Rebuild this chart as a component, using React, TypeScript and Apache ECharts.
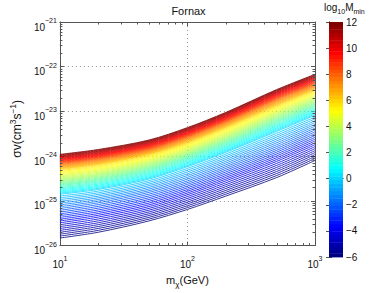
import React, { useEffect, useRef } from 'react';
import * as echarts from 'echarts';

// ---- data ----
const masses = [10, 20, 50, 100, 200, 500, 1000]; // m_chi (GeV)
const levels = [-6, -4, -2, 0, 2, 4, 6, 8, 10, 12]; // log10 M_min contour levels

// sigma v (cm^3 s^-1) of each contour at the masses above
const sigmaLevelM6 = [1.48e-26, 1.99e-26, 3.57e-26, 6.44e-26, 1.28e-25, 3.32e-25, 8.02e-25];
const sigmaLevelM4 = [3.24e-26, 4.35e-26, 7.45e-26, 1.37e-25, 2.8e-25, 7.64e-25, 1.8e-24];
const sigmaLevelM2 = [6.76e-26, 9.06e-26, 1.55e-25, 2.8e-25, 5.83e-25, 1.63e-24, 3.85e-24];
const sigmaLevel0 = [1.41e-25, 1.8e-25, 3.08e-25, 5.83e-25, 1.22e-24, 3.57e-24, 8.22e-24];
const sigmaLevel2 = [2.19e-25, 2.8e-25, 4.8e-25, 9.06e-25, 1.89e-24, 5.69e-24, 1.28e-23];
const sigmaLevel4 = [3.24e-25, 4.14e-25, 7.1e-25, 1.31e-24, 2.8e-24, 8.63e-24, 1.89e-23];
const sigmaLevel6 = [5.04e-25, 6.44e-25, 1.08e-24, 1.99e-24, 4.35e-24, 1.34e-23, 3.01e-23];
const sigmaLevel8 = [6.76e-25, 8.63e-25, 1.41e-24, 2.67e-24, 5.83e-24, 1.85e-23, 4.04e-23];
const sigmaLevel10 = [8.63e-25, 1.1e-24, 1.8e-24, 3.4e-24, 7.45e-24, 2.41e-23, 5.29e-23];
const sigmaLevel12 = [1.1e-24, 1.41e-24, 2.3e-24, 4.35e-24, 9.53e-24, 3.08e-23, 6.76e-23];

const contourSigma = [
  sigmaLevelM6, sigmaLevelM4, sigmaLevelM2, sigmaLevel0, sigmaLevel2,
  sigmaLevel4, sigmaLevel6, sigmaLevel8, sigmaLevel10, sigmaLevel12,
];

const xMin = 10;
const xMax = 1000;
const yMin = 1e-26;
const yMax = 1e-21;
const cbMin = -6;
const cbMax = 12;
const cbInterval = 2;
const minorMantissas = [2, 3, 4, 5, 6, 7, 8, 9];
const xDecades = [10, 100];
const yDecades = [1e-26, 1e-25, 1e-24, 1e-23, 1e-22];

// ECharts' log scale rounds values below 1e-20 to zero, so the y axis works in
// units of 1e-26 cm^3 s^-1 and the labels add the exponent back.
const Y_UNIT = 1e-26;
const toAxis = (s: number) => s / Y_UNIT;

const FONT = '"Liberation Sans", Arial, Helvetica, sans-serif';
const AXIS = '#555';
const TEXT = '#111';
const SUB_LINES = 8; // contour lines drawn per band

function jet(t: number): string {
  const c = (v: number) => Math.max(0, Math.min(1, v));
  const r = c(Math.min(4 * t - 1.5, -4 * t + 4.5));
  const g = c(Math.min(4 * t - 0.5, -4 * t + 3.5));
  const b = c(Math.min(4 * t + 0.5, -4 * t + 2.5));
  return `rgb(${Math.round(r * 255)},${Math.round(g * 255)},${Math.round(b * 255)})`;
}
const levelColor = (l: number) => jet((l - cbMin) / (cbMax - cbMin));

const supRich = {
  b: { fontSize: 10, lineHeight: 20, fontFamily: FONT, color: TEXT },
  e: { fontSize: 7, lineHeight: 8, verticalAlign: 'top', fontFamily: FONT, color: TEXT },
};
const expOf = (v: number) => Math.round(Math.log10(v));
const minusFmt = (n: number) => (n < 0 ? '\u2212' + -n : String(n));
const yExp = (v: number) => Math.round(Math.log10(v) + Math.log10(Y_UNIT));

export default function App() {
  const ref = useRef<HTMLDivElement>(null);
  useEffect(() => {
    const chart = echarts.init(ref.current!, null, { renderer: 'svg' });

    const bandData = levels.slice(0, -1).map((_, i) => [masses[0], toAxis(contourSigma[i][0]), i]);

    const option: any = {
      animation: false,
      backgroundColor: '#fff',
      title: {
        text: 'Fornax',
        left: 183.5,
        top: 0,
        textAlign: 'center',
        textStyle: { fontSize: 11, fontWeight: 'normal', color: TEXT, fontFamily: FONT },
      },
      grid: [
        { left: 52, top: 22, width: 263, height: 235 },
        { left: 329, top: 22, width: 14, height: 235 },
      ],
      xAxis: [
        {
          gridIndex: 0, type: 'log', logBase: 10, min: xMin, max: xMax, position: 'bottom',
          axisLine: { show: true, lineStyle: { color: AXIS } },
          axisTick: { show: true, inside: true, length: 4, lineStyle: { color: AXIS } },
          splitLine: { show: true, lineStyle: { type: [1, 3], color: '#999' } },
          axisLabel: {
            margin: 9,
            formatter: (v: number) => `{b|10}{e|${expOf(v)}}`,
            rich: supRich,
          },
          name: '{a|m}{s|\u03c7}{a|(GeV)}',
          nameLocation: 'middle',
          nameGap: 13,
          nameTextStyle: {
            rich: {
              a: { fontSize: 11, lineHeight: 16, fontFamily: FONT, color: TEXT },
              s: { fontSize: 8, lineHeight: 9, verticalAlign: 'bottom', fontFamily: FONT, color: TEXT },
            },
          },
        },
        {
          gridIndex: 0, type: 'log', logBase: 10, min: xMin, max: xMax, position: 'top',
          axisLine: { show: true, lineStyle: { color: AXIS } },
          axisTick: { show: true, inside: true, length: 4, lineStyle: { color: AXIS } },
          axisLabel: { show: false },
          splitLine: { show: false },
        },
        {
          gridIndex: 1, type: 'value', min: 0, max: 1, position: 'bottom',
          axisLine: { show: true, lineStyle: { color: AXIS } },
          axisTick: { show: false }, axisLabel: { show: false }, splitLine: { show: false },
        },
        {
          gridIndex: 1, type: 'value', min: 0, max: 1, position: 'top',
          axisLine: { show: true, lineStyle: { color: AXIS } },
          axisTick: { show: false }, axisLabel: { show: false }, splitLine: { show: false },
        },
      ],
      yAxis: [
        {
          gridIndex: 0, type: 'log', logBase: 10, min: toAxis(yMin), max: toAxis(yMax), position: 'left',
          axisLine: { show: true, lineStyle: { color: AXIS } },
          axisTick: { show: true, inside: true, length: 4, lineStyle: { color: AXIS } },
          splitLine: { show: true, lineStyle: { type: [1, 3], color: '#999' } },
          axisLabel: {
            margin: 3,
            padding: [10, 0, 0, 0],
            formatter: (v: number) => `{b|10}{e|${minusFmt(yExp(v))}}`,
            rich: supRich,
          },
          name: '{a|\u03c3v(cm}{e|3}{a|s}{e|\u22121}{a|)}',
          nameLocation: 'middle',
          nameGap: 30,
          nameRotate: 90,
          nameTextStyle: {
            padding: [0, 0, 0, 10],
            rich: {
              a: { fontSize: 12, lineHeight: 18, fontFamily: FONT, color: TEXT },
              e: { fontSize: 8.5, lineHeight: 9, verticalAlign: 'top', fontFamily: FONT, color: TEXT },
            },
          },
        },
        {
          gridIndex: 0, type: 'log', logBase: 10, min: toAxis(yMin), max: toAxis(yMax), position: 'right',
          axisLine: { show: true, lineStyle: { color: AXIS } },
          axisTick: { show: true, inside: true, length: 4, lineStyle: { color: AXIS } },
          axisLabel: { show: false },
          splitLine: { show: false },
        },
        {
          gridIndex: 1, type: 'value', min: cbMin, max: cbMax, interval: cbInterval, position: 'right',
          axisLine: { show: true, lineStyle: { color: AXIS } },
          axisTick: { show: true, inside: true, length: 3, lineStyle: { color: AXIS } },
          axisLabel: {
            margin: 3, fontSize: 10, fontFamily: FONT, color: TEXT,
            formatter: (v: number) => minusFmt(v),
          },
          splitLine: { show: false },
        },
        {
          gridIndex: 1, type: 'value', min: cbMin, max: cbMax, interval: cbInterval, position: 'left',
          axisLine: { show: true, lineStyle: { color: AXIS } },
          axisTick: { show: true, inside: true, length: 3, lineStyle: { color: AXIS } },
          axisLabel: { show: false },
          splitLine: { show: false },
        },
      ],
      graphic: [
        {
          type: 'text',
          left: 324,
          top: 2,
          style: {
            text: '{a|log}{s|10}{a|M}{s|min}',
            fill: TEXT,
            rich: {
              a: { fontSize: 10, lineHeight: 16, fontFamily: FONT, fill: TEXT, color: TEXT },
              s: { fontSize: 7, lineHeight: 8, verticalAlign: 'bottom', fontFamily: FONT, fill: TEXT, color: TEXT },
            },
          },
        },
      ],
      series: [
        {
          type: 'custom',
          name: 'contours',
          xAxisIndex: 0,
          yAxisIndex: 0,
          clip: true,
          encode: { x: 0, y: 1 },
          data: bandData,
          renderItem: (params: any, api: any) => {
            const i = api.value(2);
            const lo = contourSigma[i];
            const hi = contourSigma[i + 1];
            const l0 = levels[i];
            const l1 = levels[i + 1];
            const count = i === levels.length - 2 ? SUB_LINES + 1 : SUB_LINES;
            const children: any[] = [];
            for (let k = 0; k < count; k++) {
              const t = k / SUB_LINES;
              const lev = l0 + t * (l1 - l0);
              const pts = masses.map((m, j) => {
                const ly = Math.log10(toAxis(lo[j])) * (1 - t) + Math.log10(toAxis(hi[j])) * t;
                return api.coord([m, Math.pow(10, ly)]);
              });
              children.push({
                type: 'polyline',
                shape: { points: pts, smooth: 0.3 },
                style: { stroke: levelColor(lev), lineWidth: 0.8, fill: null },
              });
            }
            return { type: 'group', children };
          },
          z: 2,
        },
        {
          type: 'custom',
          name: 'minorTicks',
          xAxisIndex: 0,
          yAxisIndex: 0,
          encode: { x: 0, y: 1 },
          data: [[xMin, toAxis(yMin)]],
          renderItem: (params: any, api: any) => {
            const cs = params.coordSys;
            const L = 2.5;
            const children: any[] = [];
            const st = { stroke: AXIS, lineWidth: 1 };
            xDecades.forEach((d) =>
              minorMantissas.forEach((mm) => {
                const x = Math.round(api.coord([d * mm, toAxis(yMin)])[0]) + 0.5;
                children.push({ type: 'line', shape: { x1: x, y1: cs.y + cs.height, x2: x, y2: cs.y + cs.height - L }, style: st });
                children.push({ type: 'line', shape: { x1: x, y1: cs.y, x2: x, y2: cs.y + L }, style: st });
              })
            );
            yDecades.forEach((d) =>
              minorMantissas.forEach((mm) => {
                const y = Math.round(api.coord([xMin, toAxis(d * mm)])[1]) + 0.5;
                children.push({ type: 'line', shape: { x1: cs.x, y1: y, x2: cs.x + L, y2: y }, style: st });
                children.push({ type: 'line', shape: { x1: cs.x + cs.width, y1: y, x2: cs.x + cs.width - L, y2: y }, style: st });
              })
            );
            return { type: 'group', children };
          },
          z: 5,
        },
        {
          type: 'custom',
          name: 'colorbar',
          xAxisIndex: 2,
          yAxisIndex: 2,
          encode: { x: 0, y: 1 },
          data: [[0, cbMin]],
          renderItem: (params: any, api: any) => {
            const n = 64;
            const children: any[] = [];
            const p0 = api.coord([0, cbMin]);
            const p1 = api.coord([1, cbMax]);
            const h = (p0[1] - p1[1]) / n;
            for (let k = 0; k < n; k++) {
              children.push({
                type: 'rect',
                shape: { x: p0[0], y: p0[1] - (k + 1) * h, width: p1[0] - p0[0], height: h + 0.4 },
                style: { fill: jet(k / (n - 1)) },
              });
            }
            return { type: 'group', children };
          },
          z: 1,
        },
      ],
    };

    chart.setOption(option);
    return () => chart.dispose();
  }, []);

  return <div ref={ref} style={{ position: 'fixed', left: 0, top: 0, width: 390, height: 293 }} />;
}
